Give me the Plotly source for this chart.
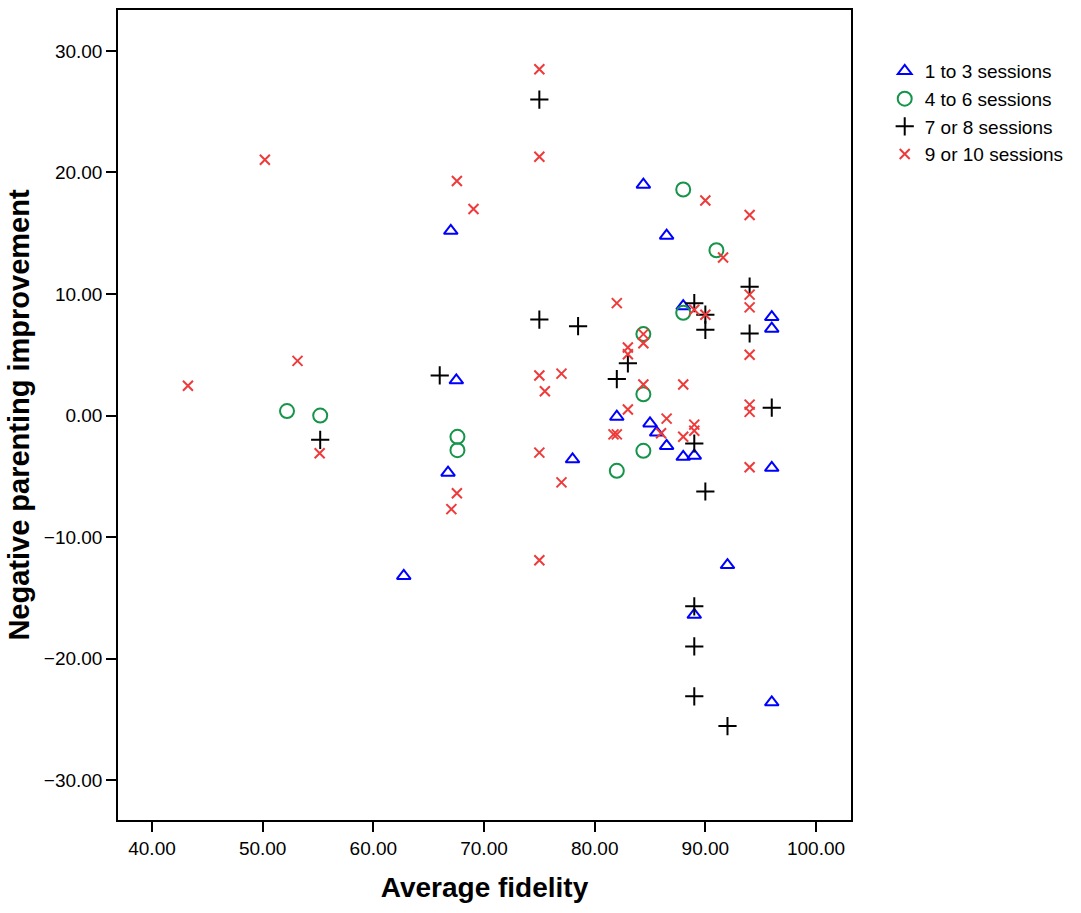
import plotly.graph_objects as go

# 1 to 3 sessions
s1_x = [84.4, 86.5, 88.0, 96.0, 96.0, 67.0, 67.5, 66.75, 62.75, 82.0, 78.0, 85.0, 85.6, 86.5, 88.0, 89.0, 96.0, 92.0, 89.0, 96.0]
s1_y = [19.0, 14.8, 9.0, 8.1, 7.15, 15.2, 2.9, -4.7, -13.2, -0.1, -3.6, -0.65, -1.4, -2.5, -3.4, -3.3, -4.3, -12.3, -16.4, -23.6]
# 4 to 6 sessions
s2_x = [88.0, 91.0, 88.0, 84.4, 84.4, 84.4, 82.0, 52.2, 55.2, 67.6, 67.6]
s2_y = [18.6, 13.6, 8.45, 6.7, 1.75, -2.9, -4.55, 0.37, 0.0, -1.75, -2.85]
# 7 or 8 sessions
s3_x = [75.0, 75.0, 66.0, 55.2, 78.5, 94.0, 94.0, 89.0, 90.0, 90.0, 83.0, 82.0, 96.0, 89.0, 90.0, 89.0, 89.0, 89.0, 92.0]
s3_y = [26.0, 7.9, 3.3, -2.0, 7.35, 10.6, 6.75, 9.25, 8.3, 7.05, 4.3, 3.0, 0.65, -2.3, -6.25, -15.7, -19.0, -23.1, -25.55]
# 9 or 10 sessions
s4_x = [43.25, 50.2, 53.15, 55.15, 75.0, 75.0, 67.55, 69.05, 75.0, 77.0, 75.5, 75.0, 77.0, 67.55, 67.05, 75.0,
        90.0, 94.0, 91.6, 94.0, 94.0, 82.0, 89.0, 90.0, 84.4, 84.4, 83.0, 83.0, 94.0, 84.4, 88.0, 83.0, 94.0, 94.0,
        86.5, 81.7, 82.0, 86.0, 88.0, 89.0, 89.0, 94.0]
s4_y = [2.45, 21.05, 4.5, -3.1, 28.5, 21.3, 19.3, 17.0, 3.3, 3.45, 2.0, -3.05, -5.5, -6.4, -7.7, -11.9,
        17.7, 16.5, 13.0, 9.95, 8.9, 9.25, 8.7, 8.3, 6.7, 5.95, 5.6, 5.05, 5.0, 2.55, 2.55, 0.5, 0.9, 0.3,
        -0.25, -1.55, -1.55, -1.45, -1.75, -0.75, -1.25, -4.25]

x_ticks = [40, 50, 60, 70, 80, 90, 100]
y_ticks = [-30, -20, -10, 0, 10, 20, 30]

names = ["1 to 3 sessions", "4 to 6 sessions", "7 or 8 sessions", "9 or 10 sessions"]

FONT = "Arial, Liberation Sans, sans-serif"

fig = go.Figure()
fig.add_trace(go.Scatter(x=s1_x, y=s1_y, mode="markers", name=names[0],
                         marker=dict(symbol="triangle-up-open", size=12, color="#0000ff", line=dict(width=2))))
fig.add_trace(go.Scatter(x=s2_x, y=s2_y, mode="markers", name=names[1],
                         marker=dict(symbol="circle-open", size=14, color="#15944a", line=dict(width=2))))
fig.add_trace(go.Scatter(x=s3_x, y=s3_y, mode="markers", name=names[2],
                         marker=dict(symbol="cross-thin-open", size=13, color="#000000", line=dict(width=2, color="#000000"))))
fig.add_trace(go.Scatter(x=s4_x, y=s4_y, mode="markers", name=names[3],
                         marker=dict(symbol="x-thin-open", size=10, color="#ee3a3a", line=dict(width=2, color="#ee3a3a"))))

axis_common = dict(showline=True, linecolor="black", linewidth=1.5, mirror=True,
                   ticks="outside", ticklen=10, tickwidth=2, tickcolor="black",
                   showgrid=False, zeroline=False,
                   tickfont=dict(family=FONT, size=19, color="black"))

fig.update_xaxes(range=[36.93, 103.16], tickvals=x_ticks, tickformat=".2f",
                 title=dict(text="<b>Average fidelity</b>", font=dict(family=FONT, size=28, color="black"), standoff=20),
                 **axis_common)
fig.update_yaxes(range=[-33.28, 33.37], tickvals=y_ticks, tickformat=".2f",
                 title=dict(text="<b>Negative parenting improvement</b>", font=dict(family=FONT, size=29, color="black"), standoff=6),
                 **axis_common)

fig.update_layout(
    width=1081, height=913,
    margin=dict(l=118, r=230, t=8, b=93),
    paper_bgcolor="white", plot_bgcolor="white",
    showlegend=True,
    legend=dict(x=1.046, y=0.948, xanchor="left", yanchor="top",
                font=dict(family=FONT, size=19, color="black"),
                bgcolor="rgba(0,0,0,0)", tracegroupgap=0),
)

fig.write_html("out.html")
